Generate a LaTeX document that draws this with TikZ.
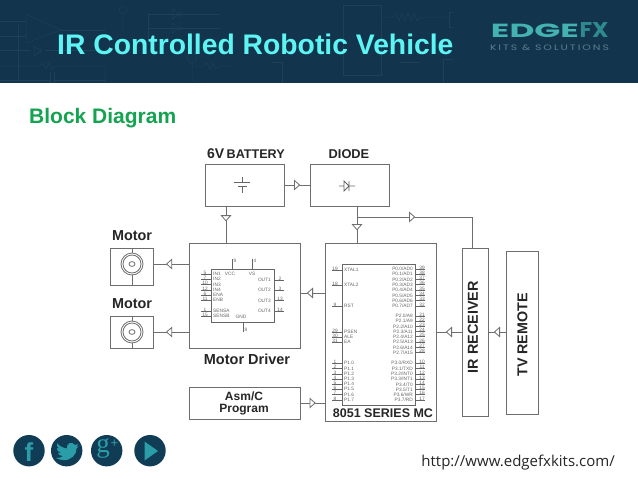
\documentclass[tikz,border=0pt]{standalone}
\usepackage{fontspec}
\usepackage{graphicx}
\setmainfont{Liberation Sans}
\newfontfamily\urlfont{Open Sans}
\newfontfamily\logofont{Poppins}
\newfontfamily\logowide[LetterSpace=18]{Poppins}
\newfontfamily\gfont{Liberation Serif}
\usetikzlibrary{decorations.markings,calc}
\definecolor{hdr}{HTML}{12344C}
\definecolor{hdrline}{HTML}{1E4058}
\definecolor{titlec}{HTML}{5CF5F3}
\definecolor{greenc}{HTML}{14A350}
\definecolor{boxc}{HTML}{6E6E6E}
\definecolor{pinc}{HTML}{666666}
\definecolor{logoc}{HTML}{43B2B0}
\definecolor{logod}{HTML}{2F8A90}
\definecolor{logos}{HTML}{57818F}
\definecolor{iconc}{HTML}{113C55}
\definecolor{icong}{HTML}{2A9DA8}
\tikzset{
  x=1pt,y=-1pt,
  blockbox/.style={draw=boxc,line width=1pt,fill=white,minimum width=#1,inner sep=0pt,outer sep=0pt},
  wire/.style={draw=boxc,line width=0.9pt},
  tip/.style={postaction={decorate},decoration={markings,mark=at position #1 with {
    \draw[draw=boxc,line width=0.8pt,fill=white] (-2.6pt,-4.6pt) -- (2.6pt,0pt) -- (-2.6pt,4.6pt) -- cycle;}}},
  lbl/.style={font=\bfseries\fontsize{#1}{#1}\selectfont,text=black!85,inner sep=0pt},
  pinl/.style={draw=pinc,line width=0.6pt},
  tiny/.style={font=\fontsize{4.8}{4.8}\selectfont,text=black!60,inner sep=0pt},
  hline/.style={draw=hdrline,line width=0.5pt},
}
\begin{document}
\begin{tikzpicture}
\useasboundingbox (0,0) rectangle (638,479);
\fill[white] (0,0) rectangle (638,479);
\fill[hdr] (0,0) rectangle (638,83);
% faint circuit artwork
\draw[hline] (26,14) -- (61,30) -- (26,43) -- cycle;
\draw[hline] (0,21) -- (26,21) (0,36) -- (26,36) (61,30) -- (105,30);
\draw[hline] (18,25) -- (18,80) (0,50) -- (30,50) (45,50) -- (105,50);
\draw[hline] (34,46) -- (41,51) -- (34,56) -- cycle (41,46) -- (41,56);
\draw[hline] (0,66) -- (40,66) -- (43,63) -- (46,69) -- (49,63) -- (52,69) -- (55,66) -- (105,66);
\draw[hline] (50,72) -- (50,83) (54,72) -- (54,83) (0,80) -- (50,80) (54,80) -- (105,80);
\draw[hline] (123,10) circle (4pt) (123,14) -- (123,32) (105,66) -- (105,83);
\draw[hline] (148,14) -- (220,14) (148,28) -- (220,28) (148,14) -- (148,40);
\draw[hline] (172,9) -- (180,14) -- (172,19) -- cycle (180,9) -- (180,19);
\draw[hline] (172,23) -- (180,28) -- (172,33) -- cycle (180,23) -- (180,33);
\draw[hline] (192,58) circle (5pt) (192,63) -- (192,83);
\draw[hline] (195,66) -- (204,66) -- (207,63) -- (210,69) -- (213,63) -- (216,69) -- (219,66) -- (232,66);
\draw[hline] (343,5) rectangle (381,75);
\draw[hline] (381,17) -- (393,17) -- (396,13) -- (399,21) -- (402,13) -- (405,21) -- (408,13) -- (411,21) -- (414,13) -- (417,21) -- (420,17) -- (447,17);
\draw[hline] (453,12) -- (449,12) -- (449,27) -- (453,27);
\draw[hline] (453,59) -- (443,59) -- (443,83);
\draw[hline] (272,62) -- (282,62) -- (282,83) (400,62) -- (420,62);
% header text
\node[anchor=west,inner sep=0pt,font=\bfseries\fontsize{28.3}{28.3}\selectfont,text=titlec] (title) at (57,44) {IR Controlled Robotic Vehicle};
\node[inner sep=0pt,text=logoc,anchor=center] (logoa) at (535,31) {\resizebox{88pt}{13.5pt}{\logofont\bfseries EDGE}};
\node[inner sep=0pt,text=logod,anchor=center] (logob) at (594,30) {\resizebox{29pt}{15pt}{\logofont\bfseries FX}};
\node[inner sep=0pt,text=logos,anchor=center] (logot) at (549.5,47.5) {\resizebox{119pt}{5.6pt}{\logowide KITS \& SOLUTIONS}};
\node[anchor=west,inner sep=0pt,font=\bfseries\fontsize{21}{21}\selectfont,text=greenc] (sub) at (29,118) {Block Diagram};

% blocks
\node[blockbox=79pt,minimum height=42pt] (bat) at (244.5,185) {};
\node[blockbox=79pt,minimum height=42pt] (dio) at (349.5,185) {};
\node[blockbox=111pt,minimum height=105pt] (drv) at (244.5,295.5) {};
\node[blockbox=43pt,minimum height=37pt] (mot1) at (131.5,266.5) {};
\node[blockbox=43pt,minimum height=32pt] (mot2) at (131.5,332) {};
\node[blockbox=111pt,minimum height=32pt] (asm) at (244.5,403) {};
\node[blockbox=111pt,minimum height=178pt] (mcu) at (380.5,332) {};
\node[blockbox=26pt,minimum height=168pt] (irr) at (475,332) {};
\node[blockbox=32pt,minimum height=163pt] (tv) at (522,332.5) {};

% free ends that set the rows of the connectors
\coordinate (rowa) at (0,264);
\coordinate (rowb) at (0,332);
\coordinate (rowc) at (0,293);
\coordinate (cola) at (226,0);
\coordinate (colb) at (357,0);
\coordinate (colc) at (472,0);
\coordinate (junc) at (357,217);
\coordinate (corn) at (472,217);

% connectors
\path[wire,tip=0.5] (bat.east) -- (dio.west);
\path[wire,tip=0.33] (bat.south -| cola) -- (drv.north -| cola);
\path[wire,tip=0.57] (dio.south -| colb) -- (mcu.north -| colb);
\path[wire,tip=0.377] (junc) -- (corn) -- (irr.north -| colc);
\path[wire,tip=0.55] (drv.west |- rowa) -- (mot1.east |- rowa);
\path[wire,tip=0.55] (drv.west |- rowb) -- (mot2.east |- rowb);
\path[wire,tip=0.6] (mcu.west |- rowc) -- (drv.east |- rowc);
\path[wire,tip=0.5] (asm.east) -- (mcu.west |- asm.east);
\path[wire,tip=0.5] (irr.west) -- (mcu.east |- irr.west);
\path[wire,tip=0.5] (tv.west |- irr.west) -- (irr.east);

% block titles
\node[anchor=west,lbl=14] (l6v) at (207,154) {6V\,\fontsize{12.6}{12.6}\selectfont BATTERY};
\node[lbl=12.8] (ldio) at (349,154) {DIODE};
\node[lbl=14.4] (lm1) at (132,236) {Motor};
\node[lbl=14.4] (lm2) at (132,304) {Motor};
\node[lbl=14.5] (ldrv) at (247,359) {Motor Driver};
\node[lbl=12,align=center] (lasm) at (244,403.5) {\fontsize{12}{11}\selectfont Asm/C\\[-0.5pt]Program};
\node[lbl=12.5] (lmcu) at (383,413) {8051 SERIES MC};
\node[lbl=14.4,rotate=90] (lir) at (473,327) {IR RECEIVER};
\node[lbl=14.3,rotate=90] (ltv) at (522.5,335) {TV REMOTE};
\node[anchor=east,inner sep=0pt,font=\urlfont\fontsize{15}{15}\selectfont,text=black!85] (url) at (615,463) {http://www.edgefxkits.com/};

% motors
\foreach \cy/\mtop/\mbot in {264/248/285,332/316/348}{
  \draw[draw=boxc,line width=0.8pt] (132,\cy) circle (11pt) (132,\cy) circle (9pt);
  \draw[draw=boxc,line width=0.8pt] (132,\cy) ellipse (3pt and 2.4pt);
  \draw[draw=boxc,line width=0.8pt] (132,\mtop) -- (132,\cy-11) (132,\cy+11) -- (132,\mbot);
}
% battery and diode symbols
\draw[draw=pinc,line width=0.8pt] (234,182) -- (250,182) (238,186) -- (247,186) (242,177) -- (242,182) (242,186) -- (242,193);
\draw[draw=pinc,line width=0.8pt] (339,186) -- (344,186) (349,186) -- (355,186) (344,181) -- (349,186) -- (344,191) -- cycle (349,181) -- (349,191);

% motor driver chip
\draw[draw=pinc,line width=0.9pt] (211,269) rectangle (274,322);
\foreach \yy/\nn/\lab in {274/5/IN1,279.3/7/IN2,284.7/10/IN3,290/12/IN4,295/6/ENA,300.3/11/ENB,311/1/SENSA,316/15/SENSB}{
  \draw[pinl] (201,\yy) -- (211,\yy);
  \node[tiny,anchor=south] at (205,\yy+0.3) {\nn};
  \node[tiny,anchor=west] at (213,\yy) {\lab};
}
\foreach \yy/\nn/\lab in {280/2/OUT1,290.3/3/OUT2,300.7/13/OUT3,311/14/OUT4}{
  \draw[pinl] (274,\yy) -- (284,\yy);
  \node[tiny,anchor=south] at (280,\yy+0.3) {\nn};
  \node[tiny,anchor=east] at (271,\yy) {\lab};
}
\draw[pinl] (232,259) -- (232,269) (252,259) -- (252,269) (243,322) -- (243,332);
\node[tiny] at (235,261) {9};
\node[tiny] at (255,261) {4};
\node[tiny] at (246,330) {8};
\node[tiny] at (230,274) {VCC};
\node[tiny] at (252,274) {VS};
\node[tiny] at (241,317) {GND};

% 8051 chip
\draw[draw=pinc,line width=0.9pt] (342,264) rectangle (415,405);
\foreach \yy/\nn/\lab in {270/19/XTAL1,285/18/XTAL2,306/9/RST,332/29/PSEN,337/30/ALE,342/31/EA,363/1/P1.0,368.7/2/P1.1,374/3/P1.2,379/4/P1.3,384.3/5/P1.4,389.3/6/P1.5,394.7/7/P1.6,400/8/P1.7}{
  \draw[pinl] (332,\yy) -- (342,\yy);
  \node[tiny,anchor=south] at (335,\yy+0.3) {\nn};
  \node[tiny,anchor=west] at (344,\yy) {\lab};
}
\foreach \yy/\nn/\lab in {269/39/{P0.0/AD0},274/38/{P0.1/AD1},279.3/37/{P0.2/AD2},284.7/36/{P0.3/AD3},290/35/{P0.4/AD4},295.3/34/{P0.5/AD5},300.7/33/{P0.6/AD6},306/32/{P0.7/AD7},316/21/{P2.0/A8},321/22/{P2.1/A9},326.3/23/{P2.2/A10},331.7/24/{P2.3/A11},336.7/25/{P2.4/A12},342/26/{P2.5/A13},347.3/27/{P2.6/A14},352.7/28/{P2.7/A15},363/10/{P3.0/RXD},368.7/11/{P3.1/TXD},374/12/{P3.2/INT0},379/13/{P3.3/INT1},384.3/14/{P3.4/T0},389.3/15/{P3.5/T1},394.7/16/{P3.6/WR},400/17/{P3.7/RD}}{
  \draw[pinl] (415,\yy) -- (425,\yy);
  \node[tiny,anchor=south] at (422,\yy+0.3) {\nn};
  \node[tiny,anchor=east] at (413,\yy) {\lab};
}

% social icons
\foreach \cx in {29,66.7,106.7,150}{\fill[iconc] (\cx,450.7) circle (15.7pt);}
\node[inner sep=0pt,text=icong,font=\bfseries\fontsize{26}{26}\selectfont] (fb) at (29,452) {f};
\fill[icong] (57,443) .. controls (60,447) and (64,448) .. (67,448.5) .. controls (66,443) and (72,441) .. (75,445) .. controls (76,445) and (77,444.5) .. (78,444) .. controls (78,445) and (77.5,446) .. (76.5,446.8) .. controls (77,447) and (78,446.5) .. (78.5,446.2) .. controls (78,447) and (77.5,447.7) .. (76.5,448.5) .. controls (77,454) and (71,461) .. (63,460) .. controls (60,460) and (58,459) .. (56,458) .. controls (59,458) and (61,457.5) .. (63,456) .. controls (60,456) and (59,455) .. (58,453) .. controls (59,453) and (60,453) .. (61,452.7) .. controls (58,452) and (56.5,450) .. (57,448) .. controls (58,448.5) and (59,448.7) .. (60,448.7) .. controls (57,447) and (56,445) .. (57,443) -- cycle;
\node[inner sep=0pt,text=icong,font=\gfont\fontsize{27}{27}\selectfont,anchor=center] (gp) at (103,448) {g};
\node[inner sep=0pt,text=icong,font=\fontsize{13}{13}\selectfont] (gplus) at (114.5,444) {+};
\fill[icong] (144.5,441.5) -- (158,451) -- (144.5,460.5) -- cycle;
\end{tikzpicture}
\end{document}
